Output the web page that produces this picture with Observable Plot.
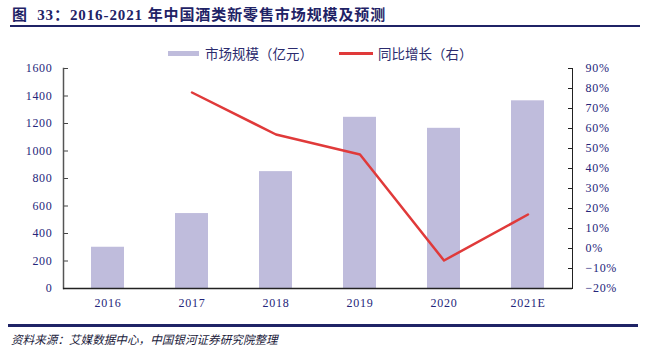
<!DOCTYPE html>
<html><head><meta charset="utf-8">
<script src="https://cdn.jsdelivr.net/npm/d3@7"></script>
<script src="https://cdn.jsdelivr.net/npm/@observablehq/plot@0.6"></script>
<style>
body{margin:0;background:#fff;width:650px;height:351px;overflow:hidden;position:relative;font-family:"Liberation Serif","Noto Sans CJK SC",serif;}
#title{position:absolute;left:12px;top:3px;font-size:15px;font-weight:bold;letter-spacing:0.9px;color:#1f2366;white-space:nowrap;font-family:"Liberation Serif","Noto Sans CJK SC",serif;}
#rule1{position:absolute;left:10px;top:25px;width:630px;height:2px;background:#1f2366;}
#legend{position:absolute;top:41px;left:168px;font-size:13.5px;color:#2b2b6e;white-space:nowrap;font-family:"Noto Sans CJK SC",sans-serif;}
#legend span{display:inline-block;vertical-align:middle;}
.sw1{width:31px;height:5px;background:#bfbcdc;margin-right:6px;}
.sw2{width:34px;height:3px;background:#e03a3a;margin-left:26px;margin-right:5px;}
#chart{position:absolute;left:0;top:58px;}
#rule2{position:absolute;left:8px;top:324px;width:630px;height:3px;background:#1f2366;}
#caption{position:absolute;left:11px;top:331px;font-size:11.6px;font-style:italic;color:#1a1a3a;white-space:nowrap;font-family:"Noto Sans CJK SC",sans-serif;}
</style></head>
<body>
<div id="title">图&nbsp;&nbsp;33：2016-2021 年中国酒类新零售市场规模及预测</div>
<div id="rule1"></div>
<div id="legend"><span class="sw1"></span><span>市场规模（亿元）</span><span class="sw2"></span><span>同比增长（右）</span></div>
<div id="chart"></div>
<div id="rule2"></div>
<div id="caption">资料来源：艾媒数据中心，中国银河证券研究院整理</div>
<script>
const years = ["2016", "2017", "2018", "2019", "2020", "2021E"];
const marketSize = [300, 545, 850, 1245, 1165, 1365];
const yoyGrowth = [null, 78, 57, 47, -6, 17];
const leftTicks = [0, 200, 400, 600, 800, 1000, 1200, 1400, 1600];
const rightTicks = [-20, -10, 0, 10, 20, 30, 40, 50, 60, 70, 80, 90];

const leftMax = 1600, rMin = -20, rMax = 90;
const toLeft = p => (p - rMin) / (rMax - rMin) * leftMax;
const fromLeft = v => v / leftMax * (rMax - rMin) + rMin;

const bars = years.map((y, i) => ({year: y, value: marketSize[i]}));
const growth = years.map((y, i) => ({year: y, g: yoyGrowth[i]})).filter(d => d.g != null);

const chart = Plot.plot({
  width: 650,
  height: 262,
  marginTop: 10,
  marginBottom: 32,
  marginLeft: 63,
  marginRight: 78,
  style: {background: "transparent", fontFamily: "'Liberation Serif', serif", fontSize: "12px", letterSpacing: "0.7px", color: "#25257a"},
  x: {domain: years, paddingInner: 0.61, paddingOuter: 0.305, axis: null},
  y: {domain: [0, leftMax], axis: null},
  marks: [
    Plot.barY(bars, {x: "year", y: "value", fill: "#bfbcdc"}),
    Plot.line(growth, {x: "year", y: d => toLeft(d.g), stroke: "#e03a3a", strokeWidth: 2.5}),
    Plot.axisY(leftTicks, {anchor: "left", tickSize: -5, tickPadding: 16, stroke: "#444", label: null, tickFormat: d => String(d)}),
    Plot.axisY(rightTicks.map(toLeft), {anchor: "right", tickSize: -5, tickPadding: 18, stroke: "#222", label: null,
      tickFormat: v => { const p = Math.round(fromLeft(v)); return (p < 0 ? "\u2212" + (-p) : p) + "%"; }}),
    Plot.axisX({tickSize: 0, tickPadding: 10, label: null}),
    Plot.frame({anchor: "left", stroke: "#555", strokeWidth: 1.5}),
    Plot.frame({anchor: "right", stroke: "#222", strokeWidth: 1}),
    Plot.ruleY([0], {stroke: "#222", strokeWidth: 1.5})
  ]
});
document.getElementById("chart").appendChild(chart);
</script>
</body></html>
